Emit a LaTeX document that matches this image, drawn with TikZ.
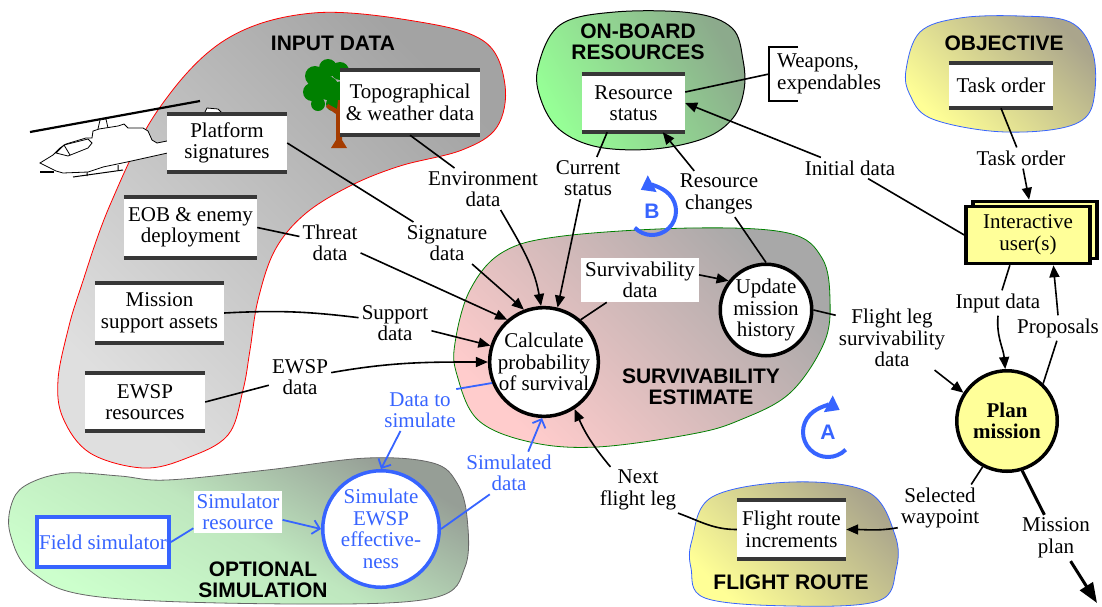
\documentclass[tikz,border=0pt]{standalone}
\usepackage{fontspec}
\setmainfont{Liberation Serif}
\newfontfamily\headfont{Liberation Sans}
\usetikzlibrary{arrows.meta}

\definecolor{simblue}{RGB}{55,100,255}
\definecolor{storegray}{RGB}{55,55,55}
\definecolor{paleyellow}{RGB}{255,255,153}
\definecolor{treegreen}{RGB}{0,128,0}
\definecolor{treebrown}{RGB}{165,60,0}
\definecolor{boardlight}{RGB}{150,255,150}
\definecolor{boarddark}{RGB}{140,170,140}
\definecolor{objlight}{RGB}{255,255,150}
\definecolor{objdark}{RGB}{170,165,140}
\definecolor{survlight}{RGB}{255,204,204}
\definecolor{survdark}{RGB}{168,168,168}
\definecolor{simlight}{RGB}{204,255,204}
\definecolor{simdark}{RGB}{150,158,150}

\tikzset{
	every node/.style = {font = \fontsize{21}{21.5}\selectfont},
	dataname/.style = {align = center, inner sep = 3pt},
	heading/.style = {align = center, inner sep = 0pt, font = \fontsize{21}{21.5}\selectfont\headfont\bfseries},
	store/.style = {fill = white, align = center, inner sep = 0pt},
	storeline/.style = {line width = 4pt, storegray},
	process/.style = {circle, draw, line width = 3.5pt, fill = white, align = center, inner sep = 0pt},
	link/.style = {line width = 1.6pt},
	flow/.style = {link, -{Triangle[length = 12pt, width = 10pt]}},
	simlink/.style = {line width = 1.8pt, simblue},
	simflow/.style = {simlink, -{Straight Barb[length = 7pt, width = 14pt]}},
	cyclearrow/.style = {line width = 4pt, simblue, -{Triangle[length = 13pt, width = 18pt]}},
	cyclename/.style = {inner sep = 0pt, text = simblue, font = \fontsize{21}{21.5}\selectfont\headfont\bfseries}
}

\begin{document}
\begin{tikzpicture}[x = 1pt, y = 1pt]

	\useasboundingbox (0, 0) rectangle (1102, -606);

	% Regions
	
	\draw [red, line width = 0.8pt, left color = gray!25, right color = gray!72, shading angle = 135]
		plot [smooth cycle, tension = 0.6] coordinates {(313, -13) (420, -22) (485, -42) (505, -85) (497, -127) (462, -150) (400, -166) (350, -186) (305, -214) (275, -250) (258, -300) (250, -350) (243, -390) (228, -435) (187, -458) (143, -468) (90, -453) (63, -418) (58, -380) (68, -330) (80, -290) (110, -205) (158, -110) (225, -40)};
	
	\draw [black, line width = 1pt, left color = boardlight, right color = boarddark, shading angle = 120]
		plot [smooth cycle, tension = 0.6] coordinates {(538, -67) (560, -25) (615, -12) (692, -13) (732, -28) (743, -60) (744, -90) (733, -118) (705, -138) (654, -149) (598, -147) (560, -130) (541, -100)};
	
	\draw [simblue, line width = 0.8pt, left color = objlight, right color = objdark, shading angle = 135]
		plot [smooth cycle, tension = 0.6] coordinates {(906, -70) (920, -32) (960, -18) (1020, -16) (1070, -22) (1092, -50) (1095, -90) (1085, -118) (1050, -130) (990, -131) (930, -118) (910, -95)};
	
	\draw [green!50!black, line width = 0.8pt, left color = survlight, right color = survdark, shading angle = 135]
		plot [smooth cycle, tension = 0.6] coordinates {(455, -343) (470, -290) (503, -252) (563, -236) (692, -228) (788, -233) (822, -258) (830, -300) (824, -343) (790, -393) (740, -420) (692, -434) (597, -447) (530, -442) (478, -420) (457, -375)};
	
	\draw [gray!80!black, line width = 0.8pt, left color = simlight, right color = simdark, middle color = simlight!75!simdark, shading angle = 150]
		plot [smooth cycle, tension = 0.6] coordinates {(13, -500) (30, -483) (67, -473) (120, -476) (167, -480) (267, -470) (367, -458) (433, -463) (457, -483) (467, -517) (465, -567) (433, -598) (300, -604) (100, -597) (33, -573) (10, -533)};
	
	\draw [simblue, line width = 0.8pt, left color = objlight, right color = objdark, shading angle = 135]
		plot [smooth cycle, tension = 0.6] coordinates {(692, -540) (712, -497) (792, -482) (868, -492) (895, -535) (896, -570) (878, -601) (792, -606) (705, -598) (691, -568)};
	
	\node [heading] (inhead) at (333, -43) {INPUT DATA};
	\node [heading] (boardhead) at (638, -42) {ON-BOARD\\RESOURCES};
	\node [heading] (objhead) at (1004, -43) {OBJECTIVE};
	\node [heading] (survhead) at (701, -387) {SURVIVABILITY\\ESTIMATE};
	\node [heading] (simhead) at (263, -580) {OPTIONAL\\SIMULATION};
	\node [heading] (routehead) at (791, -582) {FLIGHT ROUTE};
	
	% Helicopter
	
	\draw [line width = 2.2pt] (30, -132) -- (200, -101);
	\draw [fill = white, line width = 0.8pt] (98, -129) -- (100, -120) -- (106, -119) -- (108, -128);
	\draw [fill = white, line width = 0.8pt] (205, -112) -- (207, -108) -- (218, -109) -- (222, -113);
	\draw [fill = white, line width = 0.8pt] (40, -163) -- (53, -155) -- (60, -148) -- (66, -144) -- (86, -138) -- (92, -138) -- (93, -131) -- (99, -129) -- (118, -126) -- (124, -124) -- (128, -128) -- (143, -128) -- (148, -131) -- (152, -140) -- (157, -143) -- (172, -140) -- (172, -152) -- (127, -162) -- (103, -167) -- (88, -172) -- (63, -173) -- (56, -171) -- cycle;
	\draw [line width = 0.8pt] (56, -153) -- (64, -145) -- (88, -139) -- (92, -143) -- (88, -148) -- (68, -156) -- cycle
		(64, -145) -- (70, -155);
	\draw [line width = 1pt] (73, -177) -- (123, -170) (87, -172) -- (87, -176) (118, -165) -- (118, -170);
	\draw [line width = 2pt] (40, -172) -- (54, -172);
	
	% Tree
	
	\fill [treegreen] (315, -76) circle (10) (328, -68) circle (9) (340, -71) circle (9) (312, -92) circle (9) (327, -88) circle (12) (342, -91) circle (10) (318, -104) circle (7) (333, -104) circle (7);
	\fill [treebrown] (331, -148) -- (336, -140) -- (336, -114) -- (326, -107) -- (328, -104) -- (337, -109) -- (338, -100) -- (342, -100) -- (342, -140) -- (347, -148) -- cycle;
	
	% Data stores
	
	\node [store, minimum width = 140pt, minimum height = 65pt] (topo) at (410, -102.5) {Topographical\\\& weather data};
	\node [store, minimum width = 120pt, minimum height = 58pt] (platform) at (227, -143) {Platform\\signatures};
	\node [store, minimum width = 133pt, minimum height = 61pt] (eob) at (190.5, -227.5) {EOB \& enemy\\deployment};
	\node [store, minimum width = 129pt, minimum height = 60pt] (mission) at (159.5, -313) {Mission\\support assets};
	\node [store, minimum width = 120pt, minimum height = 58pt] (ewspres) at (145, -402) {EWSP\\resources};
	\node [store, minimum width = 103pt, minimum height = 58pt] (resstat) at (633.5, -103) {Resource\\status};
	\node [store, minimum width = 104pt, minimum height = 45pt] (task) at (1001, -85.5) {Task order};
	\node [store, minimum width = 109pt, minimum height = 59pt] (route) at (791.5, -529.5) {Flight route\\increments};
	
	\foreach \n in {topo, platform, eob, mission, ewspres, resstat, task, route}
		\draw [storeline] (\n.north west) -- (\n.north east) (\n.south west) -- (\n.south east);
	
	% Processes
	
	\node [process, minimum size = 108.5pt] (calc) at (544, -362) {Calculate\\probability\\of survival};
	\node [process, minimum size = 91.5pt] (update) at (766, -310) {Update\\mission\\history};
	\node [process, minimum size = 100.5pt, fill = paleyellow, font = \fontsize{21}{21.5}\selectfont\bfseries] (plan) at (1007, -421) {Plan\\mission};
	\node [process, minimum size = 116.5pt, draw = simblue, text = simblue] (sim) at (381, -529) {Simulate\\EWSP\\effective-\\ness};
	
	\node [draw, line width = 3.5pt, fill = paleyellow, minimum width = 124pt, minimum height = 57pt] (usersback) at (1035, -230) {};
	\node [draw, line width = 3.5pt, fill = paleyellow, minimum width = 124pt, minimum height = 57pt, align = center, inner sep = 0pt] (users) at (1028, -235) {Interactive\\user(s)};
	
	\node [draw = simblue, text = simblue, line width = 4pt, fill = white, minimum width = 132pt, minimum height = 50pt, inner sep = 0pt] (field) at (103, -542) {Field simulator};
	
	% Flow names
	
	\node [dataname] (env) at (483, -189) {Environment\\data};
	\node [dataname] (sig) at (447, -243) {Signature\\data};
	\node [dataname] (threat) at (330, -243) {Threat\\data};
	\node [dataname] (support) at (395, -323) {Support\\data};
	\node [dataname] (ewspdata) at (300, -377) {EWSP\\data};
	\node [dataname] (cur) at (588, -178) {Current\\status};
	\node [dataname] (reschg) at (719, -194) {Resource\\changes};
	\node [dataname, fill = white, inner sep = 4pt] (survdata) at (640, -280) {Survivability\\data};
	\node [dataname] (initial) at (850, -168) {Initial data};
	\node [dataname] (tasklbl) at (1021, -158) {Task order};
	\node [dataname] (flsurv) at (892, -338) {Flight leg\\survivability\\data};
	\node [dataname] (inputlbl) at (998, -303) {Input data};
	\node [dataname] (proposals) at (1058, -328) {Proposals};
	\node [dataname] (nextleg) at (638, -490) {Next\\flight leg};
	\node [dataname] (selected) at (940, -508) {Selected\\waypoint};
	\node [dataname] (mplan) at (1056, -538) {Mission\\plan};
	\node [dataname, text = simblue] (dts) at (420, -410) {Data to\\simulate};
	\node [dataname, text = simblue] (simd) at (509, -473) {Simulated\\data};
	\node [dataname, text = simblue, fill = white] (simres) at (238, -512) {Simulator\\resource};
	\node [dataname, align = left, anchor = west, inner sep = 0pt] (weapons) at (777, -74) {Weapons,\\expendables};
	
	\coordinate (brk) at ([xshift = -8pt] weapons.west);
	\coordinate (planout) at (1097, -603);
	
	\draw [link] ([shift = {(21pt, 7pt)}] weapons.north west) -| (brk) |- ([shift = {(21pt, -7pt)}] weapons.south west);
	
	% Connections
	
	\draw [link] (topo.south) -- (env);
	\draw [flow] (env.-50) to [out = -60, in = 100] (calc.93);
	\draw [link] (platform.east) -- (sig);
	\draw [flow] (sig.-40) -- (calc.111);
	\draw [link] (eob.east) -- (threat);
	\draw [flow] (threat.-18) -- (calc.131);
	\draw [link] (mission.east) to [bend left = 5] (support);
	\draw [flow] (support.-12) -- (calc.163);
	\draw [link] (ewspres.east) -- (ewspdata);
	\draw [flow] (ewspdata.8) to [out = 10, in = 180] (calc.west);
	\draw [link] (resstat.-132) -- (cur);
	\draw [flow] (cur.-110) -- (calc.76);
	\draw [link] (update.north) -- (reschg);
	\draw [flow] (reschg.137) -- (resstat.-45);
	\draw [link] (calc.49) -- (survdata);
	\draw [flow] (survdata.5) -- (update.142);
	\draw [link] (update.east) -- (flsurv.158);
	\draw [flow] (flsurv.-37) -- (plan.147);
	\draw [link] (brk) -- (resstat.12);
	\draw [link] (users.west) -- (initial);
	\draw [flow] (initial.160) -- (resstat.east);
	\draw [link] (task.south) -- (tasklbl);
	\draw [flow] (tasklbl) -- (usersback);
	\draw [link] (users.-121) -- (inputlbl);
	\draw [flow] (inputlbl.south) to [out = -95, in = 95] (plan.92);
	\draw [link] (plan.46) -- (proposals.-95);
	\draw [flow] (proposals.north) to [out = 95, in = -85] (users.-50);
	\draw [link] (plan.-118) -- (selected.37);
	\draw [flow] (selected.205) to [out = 190, in = 0] (route.east);
	\draw [link] (route.west) to [out = 180, in = -20] (nextleg.-30);
	\draw [flow] (nextleg.140) to [bend left = 8] (calc.-57);
	\draw [link, line width = 3pt] (plan.-73) -- (mplan);
	\draw [link, line width = 3pt, -{Triangle[length = 20pt, width = 15pt]}] (mplan) -- (planout);
	
	% Simulation links
	
	\draw [simlink] (calc.202) -- (dts.30);
	\draw [simflow] (dts.-133) -- (sim.north);
	\draw [simlink] (field.east) -- (simres.200);
	\draw [simflow] (simres.-10) -- (sim.west);
	\draw [simlink] (sim.east) -- (simd.-132);
	\draw [simflow] (simd.48) -- (calc.-92);
	
	% Cycles
	
	\node [cyclename] (cycA) at (828, -432) {A};
	\draw [cyclearrow] (cycA.center) ++(-45 : 25) arc [start angle = -45, end angle = -298, radius = 25];
	
	\node [cyclename] (cycB) at (652, -211) {B};
	\draw [cyclearrow] (cycB.center) ++(224 : 24) arc [start angle = 224, end angle = 478, radius = 24];

\end{tikzpicture}
\end{document}
